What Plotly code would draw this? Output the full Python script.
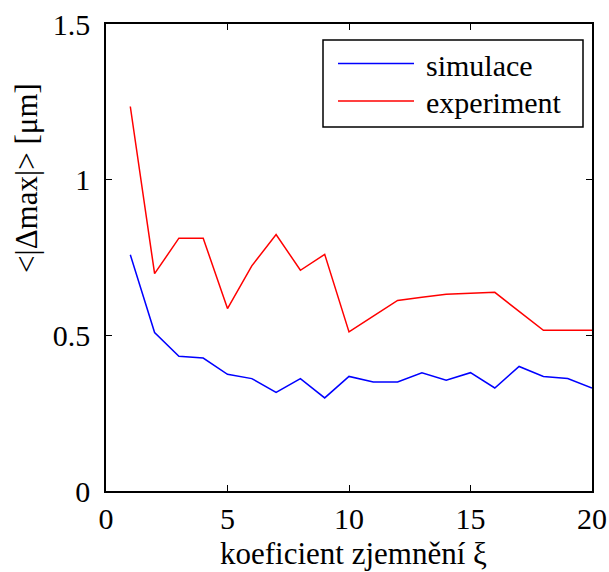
import plotly.graph_objects as go

xi = list(range(1, 21))
simulace = [0.759, 0.509, 0.433, 0.427, 0.375, 0.361, 0.317, 0.361, 0.299, 0.368,
            0.350, 0.350, 0.380, 0.356, 0.380, 0.331, 0.400, 0.368, 0.361, 0.331]
experiment = [1.235, 0.698, 0.812, 0.812, 0.586, 0.723, 0.824, 0.709, 0.760, 0.511,
              0.562, 0.612, 0.622, 0.632, 0.635, 0.638, 0.577, 0.516, 0.516, 0.516]
series_names = ["simulace", "experiment"]
series_colors = ["#0000FF", "#FF0000"]
x_ticks = [0, 5, 10, 15, 20]
y_ticks = [0, 0.5, 1, 1.5]
y_tick_labels = ["0", "0.5", "1", "1.5"]

FONT = "Liberation Serif, Times New Roman, serif"
FS = 30

fig = go.Figure()
for name, ys, col in zip(series_names, [simulace, experiment], series_colors):
    fig.add_trace(go.Scatter(x=xi, y=ys, mode="lines", name=name,
                             line=dict(color=col, width=1.5), showlegend=False))

axis_common = dict(showgrid=False, zeroline=False, showline=True, linecolor="black",
                   linewidth=1.5, mirror="ticks", ticks="inside", ticklen=6,
                   tickwidth=1, tickcolor="black", automargin=False,
                   tickfont=dict(family=FONT, size=FS, color="black"))

fig.update_xaxes(range=[0, 20], tickvals=x_ticks, ticktext=[str(v) for v in x_ticks],
                 ticklabelstandoff=0, **axis_common)
fig.update_yaxes(range=[0, 1.5], tickvals=y_ticks, ticktext=y_tick_labels,
                 ticklabelstandoff=8, **axis_common)

L, R, T, B = 106, 17, 24, 81
W, H = 609, 572
pw, ph = W - L - R, H - T - B

def px(x):
    return (x - L) / pw

def py(y):
    return (H - B - y) / ph

shapes = [dict(type="rect", xref="paper", yref="paper", x0=px(323), x1=px(583),
               y0=py(127), y1=py(40), line=dict(color="black", width=1.5),
               fillcolor="white", layer="above")]
annotations = []
for i, (name, col) in enumerate(zip(series_names, series_colors)):
    ly = 63.5 + i * 37.5
    shapes.append(dict(type="line", xref="paper", yref="paper", x0=px(338), x1=px(414),
                       y0=py(ly), y1=py(ly), line=dict(color=col, width=1.5), layer="above"))
    annotations.append(dict(xref="paper", yref="paper", x=px(424), y=py(ly + 2),
                            xanchor="left", yanchor="middle", text=name, showarrow=False,
                            font=dict(family=FONT, size=FS, color="black")))

annotations.append(dict(xref="paper", yref="paper", x=px(353), y=py(553),
                        xanchor="center", yanchor="middle", text="koeficient zjemnění ξ",
                        showarrow=False, font=dict(family=FONT, size=31, color="black")))
annotations.append(dict(xref="paper", yref="paper", x=px(26), y=py(178),
                        xanchor="center", yanchor="middle", text="&lt;|Δmax|&gt; [μm]",
                        textangle=-90, showarrow=False,
                        font=dict(family=FONT, size=31, color="black")))

fig.update_layout(width=W, height=H, margin=dict(l=L, r=R, t=T, b=B),
                  paper_bgcolor="white", plot_bgcolor="white",
                  font=dict(family=FONT, size=FS, color="black"),
                  shapes=shapes, annotations=annotations, showlegend=False)

fig.write_html("out.html")
